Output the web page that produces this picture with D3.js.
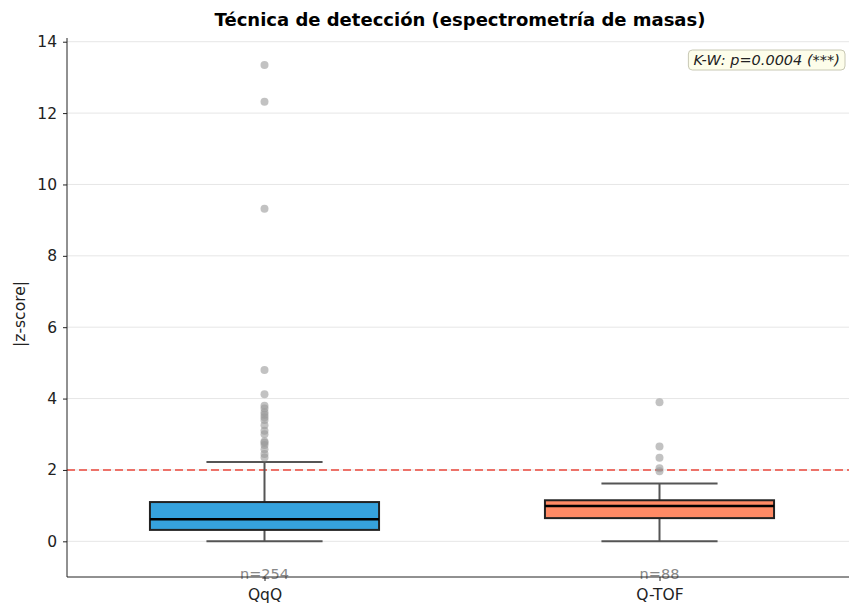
<!DOCTYPE html>
<html>
<head>
<meta charset="utf-8">
<script src="https://cdn.jsdelivr.net/npm/d3@7"></script>
<style>
  html, body { margin: 0; padding: 0; background: #ffffff; }
  svg { display: block; font-family: "DejaVu Sans", sans-serif; }
</style>
</head>
<body>
<svg id="chart" width="849" height="608"></svg>
<script>
// Mass-spectrometry detection technique: |z-score| distribution per group
const categories = ["QqQ", "Q-TOF"];
const sampleSizes = [254, 88];
const boxColors = ["#36a2dd", "#ff8a65"];
// five-number summaries: lower whisker, Q1, median, Q3, upper whisker
const lowerWhisker = [0.0, 0.0];
const q1 = [0.32, 0.65];
const median = [0.62, 0.99];
const q3 = [1.10, 1.15];
const upperWhisker = [2.22, 1.62];
const outliersQqQ = [13.35, 12.32, 9.32, 4.80, 4.12, 3.80, 3.72, 3.62, 3.55, 3.48, 3.40, 3.25, 3.10, 3.00, 2.80, 2.76, 2.70, 2.58, 2.45, 2.35];
const outliersQTOF = [3.90, 2.66, 2.34, 2.05, 1.96];
const yTicks = [0, 2, 4, 6, 8, 10, 12, 14];
const threshold = 2;
const titleText = "Técnica de detección (espectrometría de masas)";
const statText = "K-W: p=0.0004 (***)";

const outliers = [outliersQqQ, outliersQTOF];
const groups = categories.map((c, i) => ({
  name: c, n: sampleSizes[i], color: boxColors[i],
  lo: lowerWhisker[i], q1: q1[i], med: median[i], q3: q3[i], hi: upperWhisker[i],
  out: outliers[i]
}));

const svg = d3.select("#chart");
const W = 849, H = 608;
const plotLeft = 67, plotRight = 857, plotTop = 41, plotBottom = 577;

const x = d3.scaleLinear().domain([-0.5, 1.5]).range([plotLeft, plotRight]);
const y = d3.scaleLinear().domain([-1, 14.02]).range([plotBottom, plotTop]);
const boxW = x(0.29) - x(0);
const capW = x(0.147) - x(0);

// horizontal grid
svg.append("g").selectAll("line").data(yTicks).join("line")
  .attr("x1", plotLeft).attr("x2", W)
  .attr("y1", d => y(d)).attr("y2", d => y(d))
  .attr("stroke", "#e6e6e6").attr("stroke-width", 1);

// reference threshold
svg.append("line")
  .attr("x1", plotLeft).attr("x2", W)
  .attr("y1", y(threshold)).attr("y2", y(threshold))
  .attr("stroke", "#eb5a50").attr("stroke-opacity", 0.85)
  .attr("stroke-width", 2).attr("stroke-dasharray", "8,4");

// boxes
const g = svg.append("g").selectAll("g").data(groups).join("g")
  .attr("transform", (d, i) => `translate(${x(i)},0)`);

g.append("line")
  .attr("x1", 0).attr("x2", 0)
  .attr("y1", d => y(d.q3)).attr("y2", d => y(d.hi))
  .attr("stroke", "#555").attr("stroke-width", 2);
g.append("line")
  .attr("x1", 0).attr("x2", 0)
  .attr("y1", d => y(d.q1)).attr("y2", d => y(d.lo))
  .attr("stroke", "#555").attr("stroke-width", 2);
g.append("line")
  .attr("x1", -capW).attr("x2", capW)
  .attr("y1", d => y(d.hi)).attr("y2", d => y(d.hi))
  .attr("stroke", "#555").attr("stroke-width", 2);
g.append("line")
  .attr("x1", -capW).attr("x2", capW)
  .attr("y1", d => y(d.lo)).attr("y2", d => y(d.lo))
  .attr("stroke", "#555").attr("stroke-width", 2);

g.append("rect")
  .attr("x", -boxW).attr("width", 2 * boxW)
  .attr("y", d => y(d.q3)).attr("height", d => y(d.q1) - y(d.q3))
  .attr("fill", d => d.color)
  .attr("stroke", "#222").attr("stroke-width", 2);

g.append("line")
  .attr("x1", -boxW).attr("x2", boxW)
  .attr("y1", d => y(d.med)).attr("y2", d => y(d.med))
  .attr("stroke", "#000").attr("stroke-width", 2.6);

g.selectAll("circle").data(d => d.out).join("circle")
  .attr("cx", 0).attr("cy", v => y(v)).attr("r", 4)
  .attr("fill", "#999").attr("fill-opacity", 0.6);

// sample size labels
svg.append("g").selectAll("text").data(groups).join("text")
  .attr("x", (d, i) => x(i)).attr("y", plotBottom + 2)
  .attr("text-anchor", "middle")
  .attr("font-size", 14.5).attr("fill", "#888")
  .text(d => `n=${d.n}`);

// axes
const yAxis = d3.axisLeft(y).tickValues(yTicks).tickSize(4).tickPadding(6);
svg.append("g").attr("transform", `translate(${plotLeft},0)`).call(yAxis)
  .call(a => a.select(".domain").attr("d", `M0,${plotTop - 3}V${plotBottom}`).attr("stroke", "#222"))
  .call(a => a.selectAll("text").attr("font-size", 15.5).attr("fill", "#222").attr("font-family", "DejaVu Sans"))
  .call(a => a.selectAll(".tick line").attr("stroke", "#222"));

const xAxis = d3.axisBottom(x).tickValues([0, 1]).tickFormat((d) => categories[d]).tickSize(4).tickPadding(8);
svg.append("g").attr("transform", `translate(0,${plotBottom})`).call(xAxis)
  .call(a => a.select(".domain").attr("d", `M${plotLeft},0H${W}`).attr("stroke", "#222"))
  .call(a => a.selectAll("text").attr("font-size", 15.5).attr("fill", "#222").attr("font-family", "DejaVu Sans"))
  .call(a => a.selectAll(".tick line").attr("stroke", "#222"));

// y label
svg.append("text")
  .attr("transform", `translate(25,${(plotTop + plotBottom) / 2 + 5}) rotate(-90)`)
  .attr("text-anchor", "middle").attr("font-size", 15.5).attr("fill", "#222")
  .text("|z-score|");

// title
svg.append("text")
  .attr("x", 460).attr("y", 26).attr("text-anchor", "middle")
  .attr("font-size", 18).attr("font-weight", "bold").attr("fill", "#000")
  .text(titleText);

// Kruskal-Wallis annotation
const ann = svg.append("g");
const annText = ann.append("text")
  .attr("x", 840).attr("y", 65).attr("text-anchor", "end")
  .attr("font-size", 14.5).attr("font-style", "italic").attr("fill", "#222")
  .text(statText);
const bb = annText.node().getBBox();
ann.insert("rect", "text")
  .attr("x", bb.x - 5).attr("y", bb.y - 2)
  .attr("width", bb.width + 10).attr("height", bb.height + 4)
  .attr("rx", 4).attr("fill", "#fdfdea").attr("stroke", "#c8c8b4").attr("stroke-width", 1);
</script>
</body>
</html>
